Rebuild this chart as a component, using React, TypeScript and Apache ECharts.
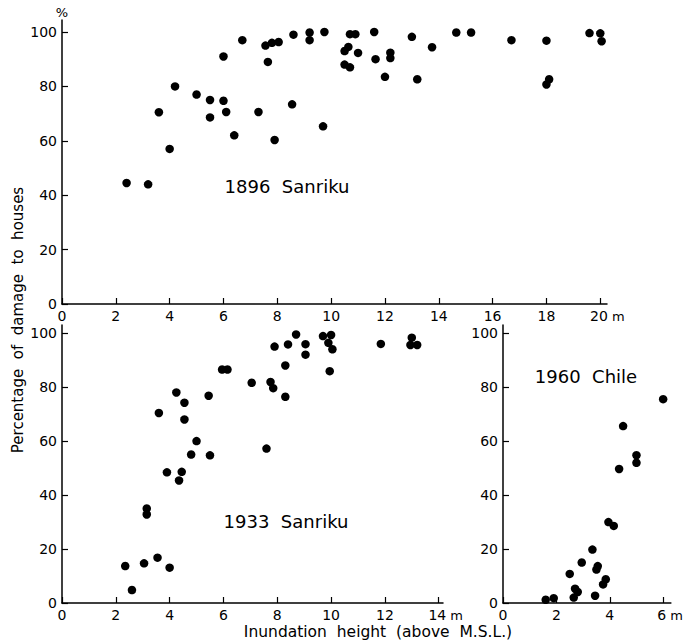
import React, { useEffect, useRef } from "react";
import * as echarts from "echarts";

// 1896 Sanriku: [inundation height (m), damage (%)]
const sanriku1896: number[][] = [
  [2.4, 44.5], [3.2, 44], [3.6, 70.5], [4.0, 57], [4.2, 80], [5.0, 77],
  [5.5, 75], [5.5, 68.6], [6.0, 91], [6.0, 74.7], [6.1, 70.6], [6.4, 62],
  [6.7, 97], [7.3, 70.6], [7.56, 95], [7.65, 89], [7.8, 96], [8.05, 96.3],
  [7.9, 60.3], [8.6, 99], [8.55, 73.4], [9.2, 99.8], [9.2, 97], [9.75, 100],
  [9.7, 65.3], [10.5, 93], [10.64, 94.5], [10.7, 99.2], [10.9, 99.2], [10.5, 88],
  [10.7, 87], [11.0, 92.3], [11.6, 100], [11.65, 90], [12.0, 83.5], [12.2, 92.4],
  [12.2, 90.4], [13.0, 98.2], [13.2, 82.6], [13.75, 94.4], [14.65, 99.8], [15.2, 99.8],
  [16.7, 97], [18.0, 96.8], [18.0, 80.7], [18.1, 82.6], [19.6, 99.6], [20.0, 99.5],
  [20.05, 96.6],
];

// 1933 Sanriku
const sanriku1933: number[][] = [
  [2.35, 13.7], [2.6, 4.8], [3.05, 14.7], [3.15, 35], [3.15, 32.8], [3.55, 16.8],
  [4.0, 13.1], [3.6, 70.4], [3.9, 48.4], [4.25, 78], [4.35, 45.4], [4.45, 48.6],
  [4.55, 74.2], [4.55, 68], [4.8, 55], [5.0, 60], [5.45, 76.8], [5.5, 54.7],
  [5.95, 86.5], [6.15, 86.5], [7.05, 81.6], [7.6, 57.2], [7.75, 81.9], [7.85, 79.6],
  [7.9, 95], [8.3, 76.4], [8.3, 88], [8.4, 95.8], [8.7, 99.5], [9.05, 95.9],
  [9.05, 92], [9.7, 98.9], [9.9, 96.4], [10.0, 99.3], [10.05, 94], [9.95, 85.9],
  [11.85, 96], [13.0, 98.3], [12.95, 95.6], [13.2, 95.6],
];

// 1960 Chile
const chile1960: number[][] = [
  [1.6, 1.2], [1.9, 1.8], [2.5, 10.8], [2.65, 2.0], [2.7, 5.3], [2.8, 4.1],
  [2.95, 15], [3.35, 19.8], [3.45, 2.7], [3.5, 12.4], [3.55, 13.7], [3.75, 6.9],
  [3.85, 8.8], [3.95, 30], [4.15, 28.6], [4.35, 49.7], [4.5, 65.6], [5.0, 54.8],
  [5.0, 52], [6.0, 75.6],
];

const yTicks = [0, 20, 40, 60, 80, 100];
const xTicksTop = [0, 2, 4, 6, 8, 10, 12, 14, 16, 18, 20];
const xTicksLeft = [0, 2, 4, 6, 8, 10, 12, 14];
const xTicksRight = [0, 2, 4, 6];

const panelLabels = ["1896  Sanriku", "1933  Sanriku", "1960  Chile"];
const yName = "Percentage  of  damage  to  houses";
const xName = "Inundation  height  (above  M.S.L.)";

const FONT = "DejaVu Sans";
const INK = "#000";

function xAxisOf(gridIndex: number, max: number, ticks: number[]) {
  const last = ticks[ticks.length - 1];
  return {
    type: "value",
    gridIndex,
    min: 0,
    max,
    axisLine: { show: true, lineStyle: { color: INK, width: 1.5 } },
    axisTick: { show: true, inside: true, length: 6, customValues: ticks, lineStyle: { color: INK, width: 1.2 } },
    axisLabel: {
      show: true,
      customValues: ticks,
      margin: 5,
      color: INK,
      fontFamily: FONT,
      fontSize: 14,
      formatter: (v: number) => (v === last ? "{p|}" + v + "{m| m}" : String(v)),
      rich: {
        p: { width: 14, fontFamily: FONT, fontSize: 14 },
        m: { fontFamily: FONT, fontSize: 13, color: INK },
      },
    },
    splitLine: { show: false },
  };
}

function yAxisOf(gridIndex: number, max: number, name?: string) {
  return {
    type: "value",
    gridIndex,
    min: 0,
    max,
    name: name || "",
    nameLocation: "end",
    nameGap: 1,
    nameTextStyle: { color: INK, fontFamily: FONT, fontSize: 13 },
    axisLine: { show: true, lineStyle: { color: INK, width: 1.5 } },
    axisTick: { show: true, inside: true, length: 6, customValues: yTicks, lineStyle: { color: INK, width: 1.2 } },
    axisLabel: {
      show: true,
      customValues: yTicks,
      margin: 5,
      color: INK,
      fontFamily: FONT,
      fontSize: 14,
    },
    splitLine: { show: false },
  };
}

export default function App() {
  const ref = useRef<HTMLDivElement>(null);

  useEffect(() => {
    if (!ref.current) return;
    const chart = echarts.init(ref.current, undefined, { renderer: "svg" });
    const scatter = (data: number[][], idx: number) => ({
      type: "scatter",
      xAxisIndex: idx,
      yAxisIndex: idx,
      data,
      symbol: "circle",
      symbolSize: 8.5,
      itemStyle: { color: INK, opacity: 1 },
    });
    const txt = (text: string, x: number, y: number, size: number, extra: any = {}) => ({
      type: "text",
      x,
      y,
      ...extra,
      style: {
        text,
        fill: INK,
        font: `${size}px "${FONT}"`,
        align: "center",
        verticalAlign: "middle",
      },
    });
    chart.setOption({
      animation: false,
      backgroundColor: "#fff",
      grid: [
        { left: 62, top: 20, width: 545, height: 284 },
        { left: 62, top: 325, width: 381, height: 278 },
        { left: 503, top: 325, width: 169, height: 278 },
      ],
      xAxis: [
        xAxisOf(0, 20.25, xTicksTop),
        xAxisOf(1, 14.16, xTicksLeft),
        xAxisOf(2, 6.29, xTicksRight),
      ],
      yAxis: [
        yAxisOf(0, 104.4, "%"),
        yAxisOf(1, 103),
        yAxisOf(2, 103.1),
      ],
      series: [
        scatter(sanriku1896, 0),
        scatter(sanriku1933, 1),
        scatter(chile1960, 2),
      ],
      graphic: [
        txt(panelLabels[0], 287, 186, 18),
        txt(panelLabels[1], 286, 521, 18),
        txt(panelLabels[2], 586, 376, 18),
        txt(yName, 18, 320, 15, { rotation: Math.PI / 2 }),
        txt(xName, 378, 632, 15.5),
      ],
    });
    return () => chart.dispose();
  }, []);

  return (
    <div
      ref={ref}
      style={{ position: "absolute", left: 0, top: 0, width: 686, height: 641, background: "#fff" }}
    />
  );
}
